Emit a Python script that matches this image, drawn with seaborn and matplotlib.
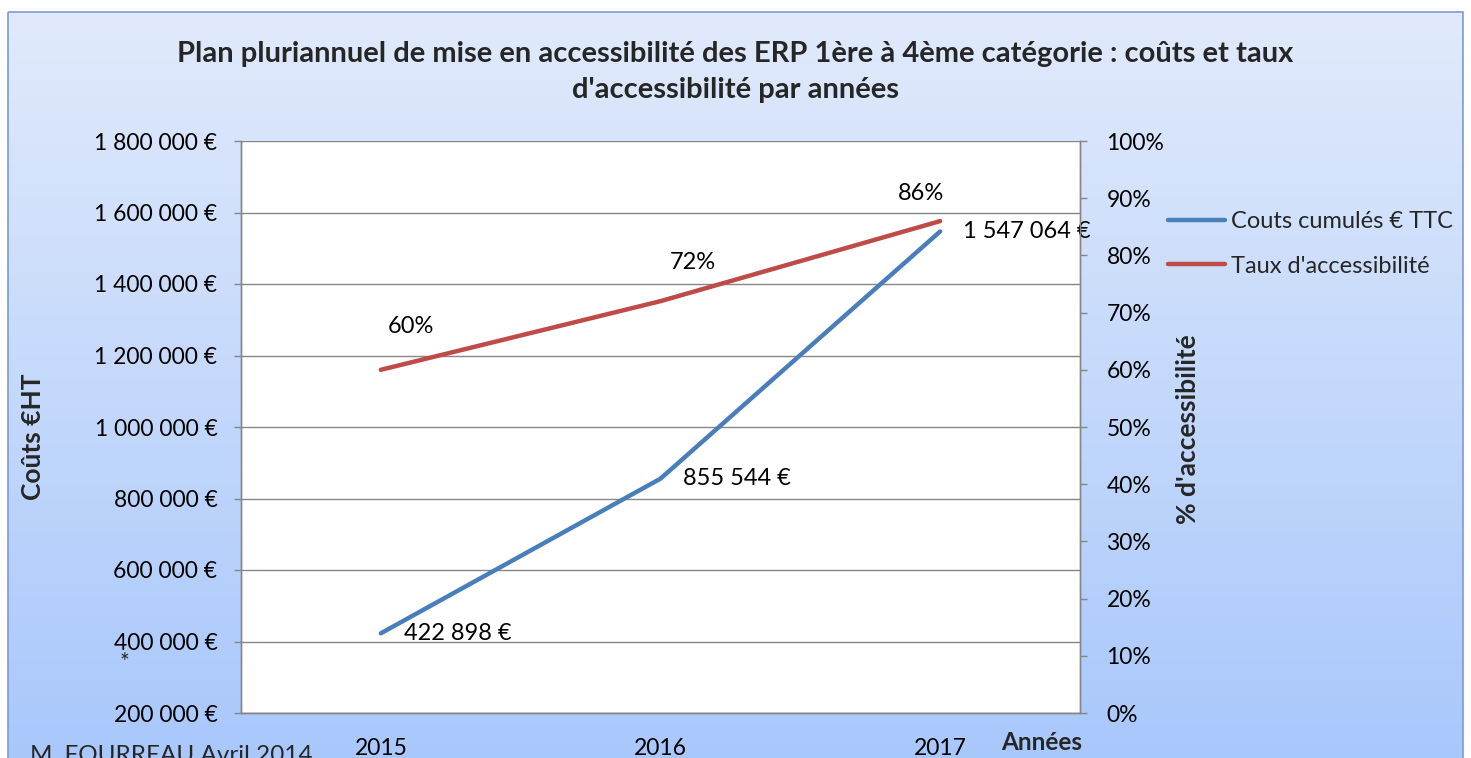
import numpy as np
import pandas as pd
import matplotlib
matplotlib.use("Agg")
import matplotlib.pyplot as plt
import seaborn as sns
from matplotlib.patches import Rectangle
from matplotlib.ticker import FuncFormatter

# ---- data ----
years = ["2015", "2016", "2017"]
couts = [422898, 855544, 1547064]
taux = [60, 72, 86]
left_ticks = [200000, 400000, 600000, 800000, 1000000, 1200000, 1400000, 1600000, 1800000]
right_ticks = [0, 10, 20, 30, 40, 50, 60, 70, 80, 90, 100]
title = "Plan pluriannuel de mise en accessibilité des ERP 1ère à 4ème catégorie : coûts et taux\nd'accessibilité par années"
label_couts = "Couts cumulés € TTC"
label_taux = "Taux d'accessibilité"

sns.set_theme(style="white")
plt.rcParams['font.family'] = ['Lato', 'DejaVu Sans']

W, H = 1471, 758
fig = plt.figure(figsize=(W / 100, H / 100), dpi=100)

# background gradient frame
bg = fig.add_axes([0, 0, 1, 1], zorder=0)
bg.set_xlim(0, W)
bg.set_ylim(H, 0)
bg.axis("off")
top = np.array([0xe1, 0xea, 0xfb]) / 255
bot = np.array([0xa6, 0xc6, 0xfb]) / 255
t = np.linspace(0, 1, 256)[:, None]
grad = (top[None, :] * (1 - t) + bot[None, :] * t)[:, None, :]
bg.imshow(grad, extent=[8, 1463, 790, 12], aspect="auto", zorder=0)
bg.add_patch(Rectangle((8, 12), 1455, 800, fill=False, edgecolor="#7b9cce", lw=1.2, zorder=1))

def fx(px):
    return px / W

def fy(py):
    return 1 - py / H

# main axes
x0, x1, y0, y1 = 241, 1080, 141, 713
ax = fig.add_axes([fx(x0), fy(y1), fx(x1) - fx(x0), fy(y0) - fy(y1)], zorder=2)
ax.set_facecolor("white")
ax2 = ax.twinx()
ax2.set_zorder(3)

xpos = np.arange(len(years))
df = pd.DataFrame({"x": xpos, "couts": couts, "taux": taux})

sns.lineplot(data=df, x="x", y="couts", ax=ax, color="#4a7ebb", lw=3.2, label=label_couts, legend=False)
sns.lineplot(data=df, x="x", y="taux", ax=ax2, color="#be4b48", lw=3.2, label=label_taux, legend=False)

ax.set_xlim(-0.5, len(years) - 0.5)
ax.set_ylim(left_ticks[0], left_ticks[-1])
ax2.set_ylim(right_ticks[0], right_ticks[-1])
ax.set_xticks(xpos)
ax.set_xticklabels(years)
ax.set_yticks(left_ticks)
ax2.set_yticks(right_ticks)
ax.yaxis.set_major_formatter(FuncFormatter(lambda v, p: f"{int(v):,} €".replace(",", " ")))
ax2.yaxis.set_major_formatter(FuncFormatter(lambda v, p: f"{int(v)}%"))

ax.grid(axis="y", color="#868686", lw=1)
ax.grid(axis="x", visible=False)
ax2.grid(False)
for a in (ax, ax2):
    for s in a.spines.values():
        s.set_color("#868686")
        s.set_linewidth(1)
    a.spines["top"].set_visible(False)
    a.set_xlabel("")
    a.set_ylabel("")

fs = 16.5
fsl = 17
ax.tick_params(axis="y", which="major", left=True, length=5, width=1, color="#868686", pad=12, labelsize=fs, labelcolor="black")
ax.tick_params(axis="x", bottom=False, pad=12, labelsize=fs, labelcolor="black")
ax2.tick_params(axis="y", right=True, length=5, width=1, color="#868686", pad=14, labelsize=fs, labelcolor="black")

# data labels
for xi, v in zip(xpos, couts):
    ax.annotate(f"{v:,} €".replace(",", " "), (xi, v), xytext=(16.5, 0), textcoords="offset points",
                ha="left", va="center", fontsize=fsl, color="black", zorder=5)
taux_offsets = [(22, 31), (23, 28), (-14, 20)]
for xi, v, off in zip(xpos, taux, taux_offsets):
    ax2.annotate(f"{v}%", (xi, v), xytext=off, textcoords="offset points",
                 ha="center", va="center", fontsize=fsl, color="black", zorder=5)

# titles and labels
fig.text(fx(735), fy(72), title, ha="center", va="center", fontsize=21, fontweight="bold",
         linespacing=1.5)
fig.text(fx(33), fy(437), "Coûts €HT", rotation=90, ha="center", va="center", fontsize=19, fontweight="bold")
fig.text(fx(1188), fy(429), "% d'accessibilité", rotation=90, ha="center", va="center", fontsize=19, fontweight="bold")
fig.text(fx(1042), fy(742), "Années", ha="center", va="center", fontsize=17.5, fontweight="bold")
fig.text(fx(124), fy(662), "*", ha="center", va="center", fontsize=fs)
fig.text(fx(30), fy(762), "M. FOURREAU Avril 2014", ha="left", va="baseline", fontsize=17.5)

# legend
h1, l1 = ax.get_legend_handles_labels()
h2, l2 = ax2.get_legend_handles_labels()
leg = fig.legend(h1 + h2, l1 + l2, loc="upper left", bbox_to_anchor=(fx(1168), fy(211)),
                 frameon=False, fontsize=fsl, handlelength=2.4, handletextpad=0.25,
                 labelspacing=1.0, borderaxespad=0, borderpad=0)

fig.savefig("out.png", dpi=100)
